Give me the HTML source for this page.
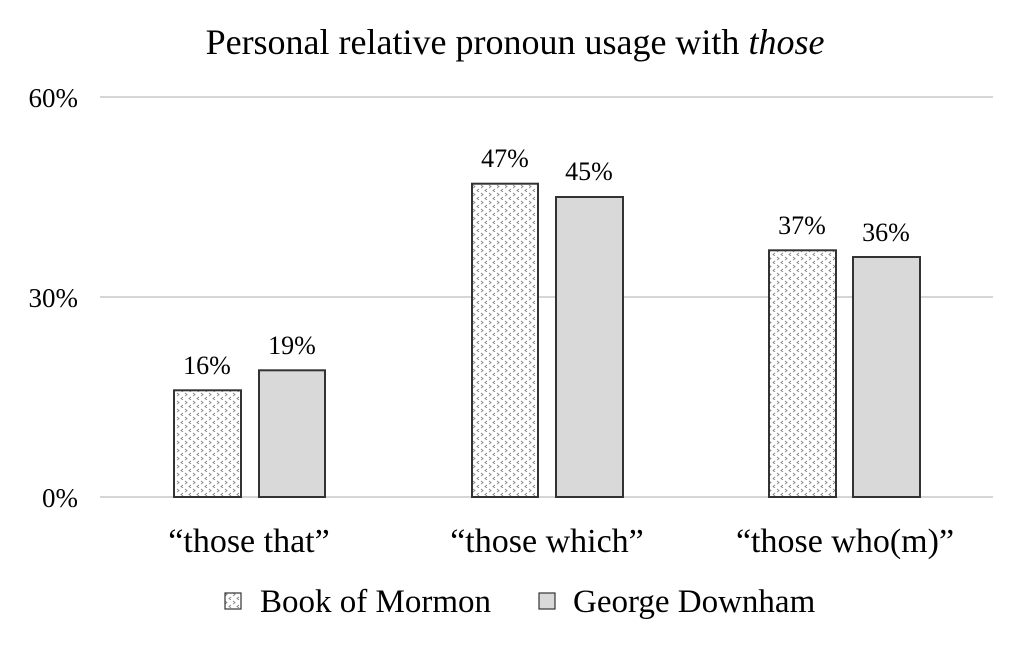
<!DOCTYPE html>
<html><head><style>body{margin:0;background:#fff}svg{display:block}</style></head><body>
<svg width="1024" height="648" xmlns="http://www.w3.org/2000/svg" font-family="Liberation Serif, serif">
<defs>
<pattern id="p" width="8" height="8" patternUnits="userSpaceOnUse">
<rect width="8" height="8" fill="#fff"/>
<path d="M1 1 l2 1.5 l-2 1.5" stroke="#888" stroke-width="0.9" fill="none"/>
<path d="M7 5 l-2 1.5 l2 1.5" stroke="#888" stroke-width="0.9" fill="none"/>
</pattern>
</defs>
<text x="515" y="54" font-size="36" text-anchor="middle">Personal relative pronoun usage with <tspan font-style="italic">those</tspan></text>
<g stroke="#c8c8c8" stroke-width="1.5">
<line x1="100" y1="97" x2="993" y2="97"/><line x1="100" y1="297" x2="993" y2="297"/><line x1="100" y1="497" x2="993" y2="497"/>
</g>
<g font-size="27" text-anchor="end">
<text x="78" y="107">60%</text><text x="78" y="307">30%</text><text x="78" y="507">0%</text>
</g>
<g stroke="#333" stroke-width="2">
<rect x="174" y="390.3" width="67" height="106.7" fill="url(#p)"/>
<rect x="259" y="370.3" width="66" height="126.7" fill="#d9d9d9"/>
<rect x="472" y="183.7" width="66" height="313.3" fill="url(#p)"/>
<rect x="556" y="197" width="67" height="300" fill="#d9d9d9"/>
<rect x="769" y="250.3" width="67" height="246.7" fill="url(#p)"/>
<rect x="853" y="257" width="67" height="240" fill="#d9d9d9"/>
</g>
<g font-size="26" text-anchor="middle">
<text x="207" y="374">16%</text><text x="292" y="354">19%</text>
<text x="505" y="167">47%</text><text x="589" y="180">45%</text>
<text x="802" y="234">37%</text><text x="886" y="241">36%</text>
</g>
<g font-size="34" text-anchor="middle">
<text x="249" y="552">“those that”</text>
<text x="547" y="552">“those which”</text>
<text x="845" y="552">“those who(m)”</text>
</g>
<rect x="225" y="593" width="16" height="16" fill="url(#p)" stroke="#333" stroke-width="1.2"/>
<text x="260" y="612" font-size="33">Book of Mormon</text>
<rect x="539" y="593" width="16" height="16" fill="#d9d9d9" stroke="#333" stroke-width="1.2"/>
<text x="573" y="612" font-size="33">George Downham</text>
</svg>
</body></html>
